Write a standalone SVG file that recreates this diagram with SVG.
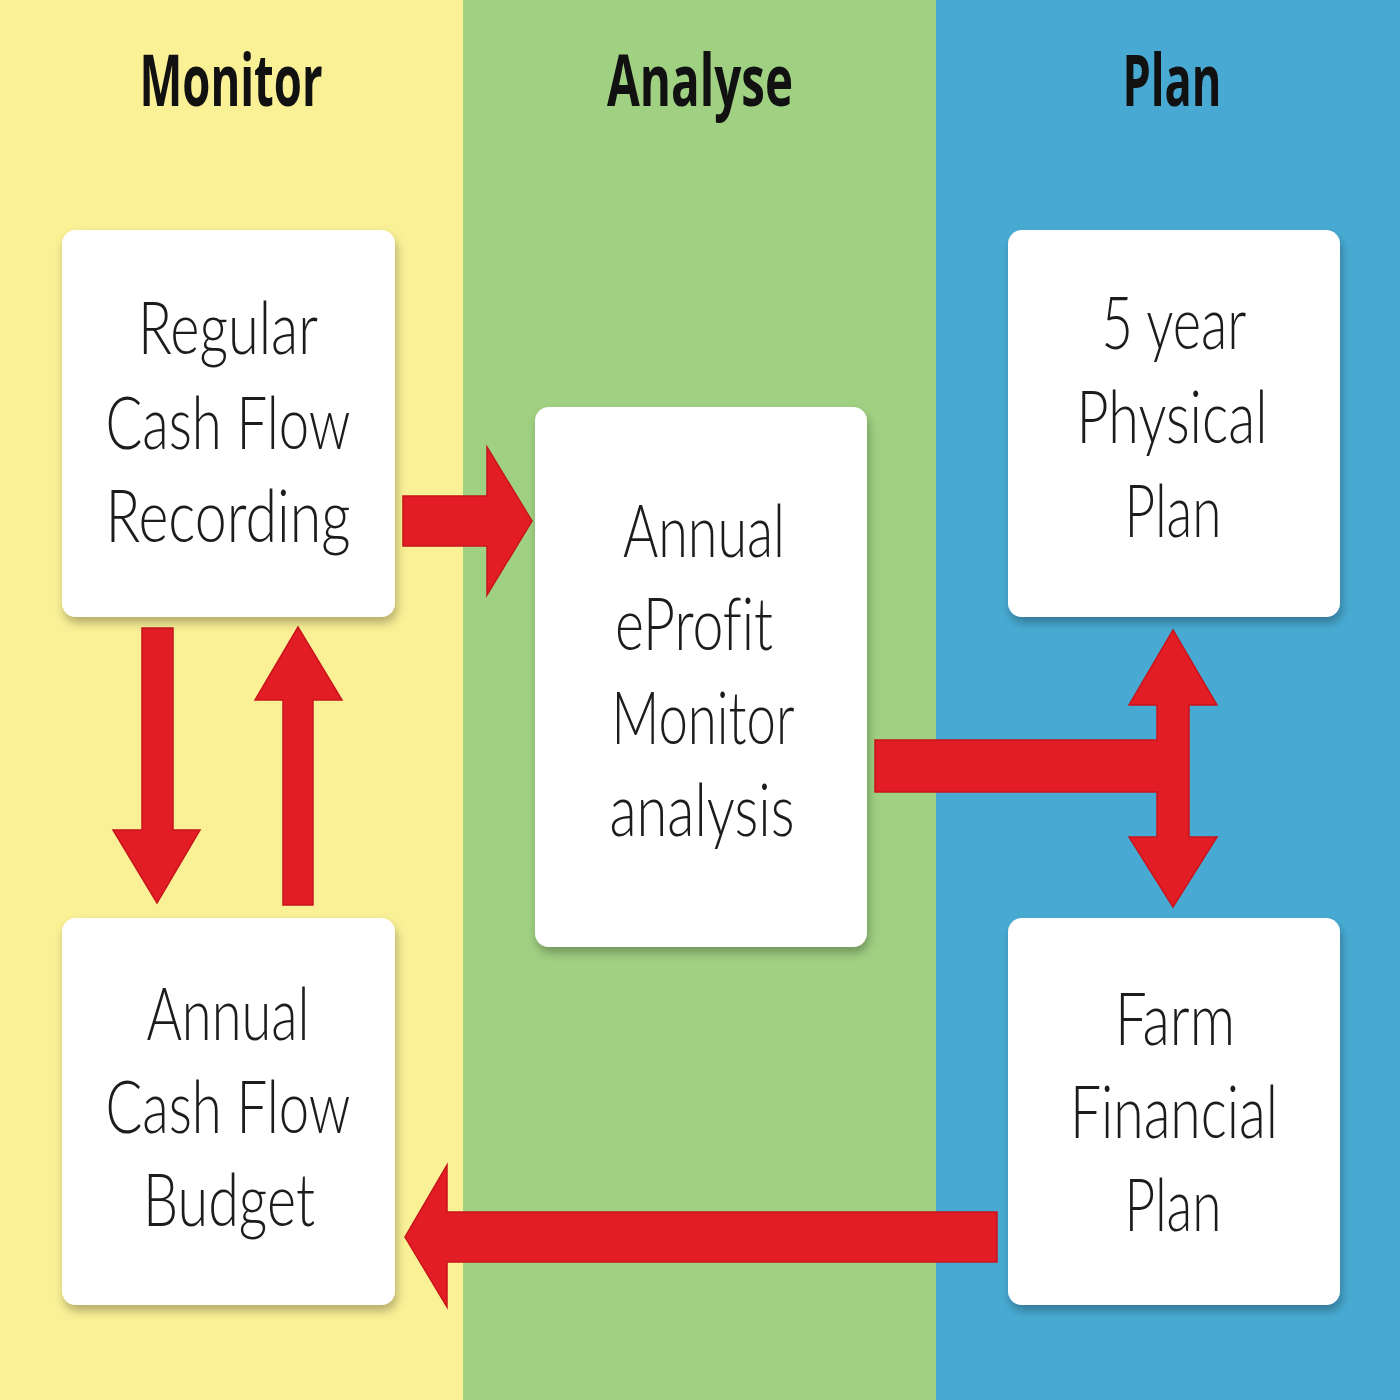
<svg xmlns="http://www.w3.org/2000/svg" width="1400" height="1400" viewBox="0 0 1400 1400">
  <style>
    .box { fill: #ffffff; filter: url(#shadow); }
    .label { font-family: "Lato", "Open Sans", "Liberation Sans", sans-serif; font-weight: 300; font-size: 72px; fill: #1c1c1c; text-anchor: middle; font-variant-ligatures: none; }
    .head { font-family: "Open Sans", "Liberation Sans", sans-serif; font-weight: 700; font-size: 72px; fill: #111111; text-anchor: middle; }
    .arrow { fill: #E31D25; stroke: #C9151C; stroke-width: 1.5; stroke-linejoin: miter; }
  </style>
  <defs>
    <filter id="shadow" x="-10%" y="-10%" width="125%" height="125%">
      <feDropShadow dx="2" dy="6" stdDeviation="5" flood-color="#000000" flood-opacity="0.28"/>
    </filter>
  </defs>

  <g id="background">
    <rect x="0" y="0" width="463" height="1400" fill="#FAF096"/>
    <rect x="463" y="0" width="473" height="1400" fill="#A0D082"/>
    <rect x="936" y="0" width="464" height="1400" fill="#48AAD2"/>
  </g>

  <g id="headers">
    <text class="head" x="231" y="106" textLength="183" lengthAdjust="spacingAndGlyphs">Monitor</text>
    <text class="head" x="700" y="106" textLength="186" lengthAdjust="spacingAndGlyphs">Analyse</text>
    <text class="head" x="1172" y="106" textLength="99" lengthAdjust="spacingAndGlyphs">Plan</text>
  </g>

  <g id="connectors">
    <path class="arrow" d="M403,496 H487 V447 L532,521 L487,595 V546 H403 Z"/>
    <path class="arrow" d="M142,628 H173 V830 H200 L157,903 L113,830 H142 Z"/>
    <path class="arrow" d="M283,905 V700 H255 L298,627 L342,700 H313 V905 Z"/>
    <path class="arrow" d="M875,740 H1157 V705 H1129 L1173,630 L1217,705 H1189 V837 H1217 L1173,907 L1129,837 H1157 V792 H875 Z"/>
    <path class="arrow" d="M997,1212 V1262 H447 V1307 L405,1237 L447,1165 V1212 Z"/>
  </g>

  <g id="node-regular-cash-flow">
    <rect class="box" x="62" y="230" width="333" height="387" rx="14"/>
    <text class="label" x="228" y="354" textLength="180" lengthAdjust="spacingAndGlyphs">Regular</text>
    <text class="label" x="228" y="449" textLength="245" lengthAdjust="spacingAndGlyphs">Cash Flow</text>
    <text class="label" x="228" y="542" textLength="245" lengthAdjust="spacingAndGlyphs">Recording</text>
  </g>

  <g id="node-annual-cash-flow-budget">
    <rect class="box" x="62" y="918" width="333" height="387" rx="14"/>
    <text class="label" x="228" y="1040" textLength="163" lengthAdjust="spacingAndGlyphs">Annual</text>
    <text class="label" x="228" y="1133" textLength="245" lengthAdjust="spacingAndGlyphs">Cash Flow</text>
    <text class="label" x="229" y="1226" textLength="172" lengthAdjust="spacingAndGlyphs">Budget</text>
  </g>

  <g id="node-eprofit-monitor">
    <rect class="box" x="535" y="407" width="332" height="540" rx="14"/>
    <text class="label" x="704" y="557" textLength="162" lengthAdjust="spacingAndGlyphs">Annual</text>
    <text class="label" x="694" y="650" textLength="158" lengthAdjust="spacingAndGlyphs">eProfit</text>
    <text class="label" x="703" y="744" textLength="183" lengthAdjust="spacingAndGlyphs">Monitor</text>
    <text class="label" x="702" y="836" textLength="185" lengthAdjust="spacingAndGlyphs">analysis</text>
  </g>

  <g id="node-5-year-physical-plan">
    <rect class="box" x="1008" y="230" width="332" height="387" rx="14"/>
    <text class="label" x="1174" y="349" textLength="145" lengthAdjust="spacingAndGlyphs">5 year</text>
    <text class="label" x="1172" y="443" textLength="191" lengthAdjust="spacingAndGlyphs">Physical</text>
    <text class="label" x="1173" y="537" textLength="97" lengthAdjust="spacingAndGlyphs">Plan</text>
  </g>

  <g id="node-farm-financial-plan">
    <rect class="box" x="1008" y="918" width="332" height="387" rx="14"/>
    <text class="label" x="1175" y="1045" textLength="120" lengthAdjust="spacingAndGlyphs">Farm</text>
    <text class="label" x="1174" y="1138" textLength="208" lengthAdjust="spacingAndGlyphs">Financial</text>
    <text class="label" x="1173" y="1231" textLength="97" lengthAdjust="spacingAndGlyphs">Plan</text>
  </g>
</svg>
